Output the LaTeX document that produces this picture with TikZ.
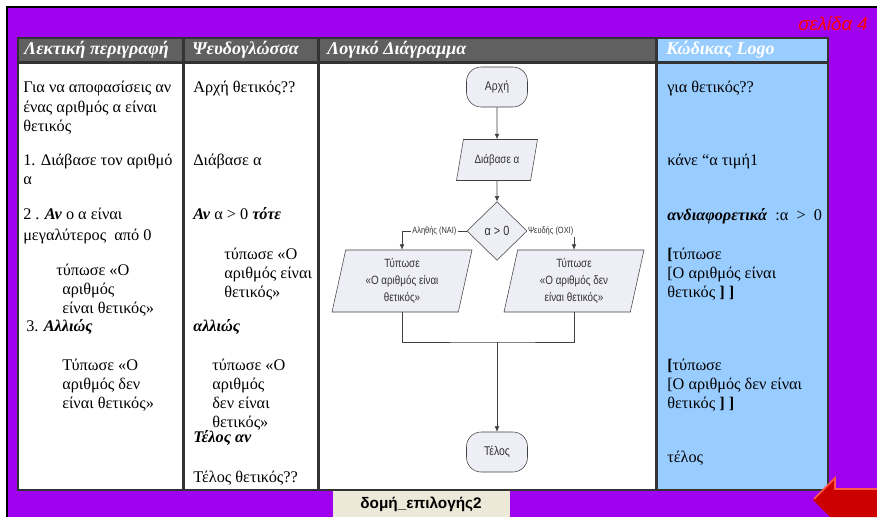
\documentclass[tikz,border=0pt]{standalone}
\usepackage{fontspec}
\setmainfont{Liberation Serif}
\setsansfont{Liberation Sans}
\newfontfamily\narrowsans[FakeStretch=0.82]{Liberation Sans}
\usepackage{xcolor}
\usepackage{tikz}
\usetikzlibrary{shapes.geometric,arrows.meta}
\definecolor{pagepurple}{RGB}{160,0,240}
\definecolor{headgrey}{RGB}{96,96,96}
\definecolor{gridgrey}{RGB}{51,51,51}
\definecolor{logoblue}{RGB}{153,204,255}
\definecolor{tabbeige}{RGB}{236,233,216}
\definecolor{chartfill}{RGB}{238,238,246}
\definecolor{chartline}{RGB}{64,64,64}
\definecolor{arrowred}{RGB}{204,0,0}
\definecolor{arrowlight}{RGB}{255,90,70}

\tikzset{
  headtext/.style={anchor=base west, inner sep=0pt, text=white,
    font=\fontsize{13.5}{15}\selectfont\bfseries\itshape},
  bodytext/.style={anchor=base west, inner sep=0pt,
    font=\fontsize{12.2}{14}\selectfont},
  terminal/.style={draw=chartline, fill=chartfill, rounded corners=11pt,
    minimum width=45.75pt, minimum height=30pt, text=gridgrey,
    font=\narrowsans\fontsize{9.5}{11}\selectfont},
  iobox/.style={draw=chartline, fill=chartfill, trapezium,
    trapezium stretches body, align=center, inner sep=1pt, text=gridgrey,
    font=\narrowsans\fontsize{9}{12.75}\selectfont},
  decision/.style={draw=chartline, fill=chartfill, diamond, inner sep=0pt,
    minimum width=45pt, minimum height=44pt, text=gridgrey,
    font=\narrowsans\fontsize{10}{12}\selectfont},
  flow/.style={draw=chartline, -{Latex[length=4pt,width=3.5pt]}},
  branch/.style={fill=white, inner sep=1pt, text=gridgrey,
    font=\narrowsans\fontsize{6.8}{8}\selectfont}
}

\begin{document}
\begin{tikzpicture}[x=0.75pt, y=-0.75pt]
  % page and frame
  \fill[white] (0,0) rectangle (877,517);
  \useasboundingbox (0,0) rectangle (877,517);
  \fill[pagepurple] (8,8) rectangle (877,517);
  \draw[black, line width=1.5pt] (7,517) -- (7,7) -- (877,7);
  \node[anchor=base east, inner sep=0pt, text=red,
    font=\sffamily\itshape\fontsize{14}{16}\selectfont] (page) at (868,31) {σελίδα 4};

  % table
  \fill[gridgrey] (17,37) rectangle (829,491);
  \fill[headgrey] (19,39) rectangle (182,61);
  \fill[headgrey] (185,39) rectangle (317,61);
  \fill[headgrey] (320,39) rectangle (655,61);
  \fill[logoblue] (658,39) rectangle (827,61);
  \fill[white] (19,64) rectangle (182,489);
  \fill[white] (185,64) rectangle (317,489);
  \fill[white] (320,64) rectangle (655,489);
  \fill[logoblue] (658,64) rectangle (827,489);

  \node[headtext] (hdesc) at (24,55) {Λεκτική περιγραφή};
  \node[headtext] (hpseudo) at (192,55) {Ψευδογλώσσα};
  \node[headtext] (hchart) at (327,55) {Λογικό Διάγραμμα};
  \node[headtext] (hlogo) at (666,55) {Κώδικας Logo};

  % column 1
  \node[bodytext] (d1) at (23,93) {Για να αποφασίσεις αν};
  \node[bodytext] (d2) at (23,112) {ένας αριθμός α είναι};
  \node[bodytext] (d3) at (23,131) {θετικός};
  \node[bodytext] (d4) at (23,165) {1. Διάβασε τον αριθμό};
  \node[bodytext] (d5) at (23,184) {α};
  \node[bodytext] (d6) at (23,219) {2 . \textbf{\textit{Αν}} ο α είναι};
  \node[bodytext] (d7) at (23,240) {μεγαλύτερος\ \ από 0};
  \node[bodytext] (d8) at (56,275) {τύπωσε «Ο};
  \node[bodytext] (d9) at (62,294) {αριθμός};
  \node[bodytext] (d10) at (62,313) {είναι θετικός»};
  \node[bodytext] (d11) at (26,331) {3. \textbf{\textit{Αλλιώς}}};
  \node[bodytext] (d12) at (62,370) {Τύπωσε «Ο};
  \node[bodytext] (d13) at (62,389) {αριθμός δεν};
  \node[bodytext] (d14) at (62,408) {είναι θετικός»};

  % column 2
  \node[bodytext] (p1) at (193,93) {Αρχή θετικός??};
  \node[bodytext] (p2) at (193,165) {Διάβασε α};
  \node[bodytext] (p3) at (193,219) {\textbf{\textit{Αν}} α > 0 \textbf{\textit{τότε}}};
  \node[bodytext] (p4) at (224,259) {τύπωσε «Ο};
  \node[bodytext] (p5) at (224,278) {αριθμός είναι};
  \node[bodytext] (p6) at (224,297) {θετικός»};
  \node[bodytext] (p7) at (193,331) {\textbf{\textit{αλλιώς}}};
  \node[bodytext] (p8) at (212,370) {τύπωσε «Ο};
  \node[bodytext] (p9) at (212,389) {αριθμός};
  \node[bodytext] (p10) at (212,408) {δεν είναι};
  \node[bodytext] (p11) at (212,427) {θετικός»};
  \node[bodytext] (p12) at (193,442) {\textbf{\textit{Τέλος αν}}};
  \node[bodytext] (p13) at (193,482) {Τέλος θετικός??};

  % column 4
  \node[bodytext] (c1) at (667,93) {για θετικός??};
  \node[bodytext] (c2) at (667,165) {κάνε “α τιμή1};
  \node[bodytext] (c3) at (667,220) {\textbf{\textit{ανδιαφορετικά}}\ \ :α\ \ >\ \ 0};
  \node[bodytext] (c4) at (667,259) {\textbf{[}τύπωσε};
  \node[bodytext] (c5) at (667,278) {[Ο αριθμός είναι};
  \node[bodytext] (c6) at (667,297) {θετικός \textbf{] ]}};
  \node[bodytext] (c7) at (667,370) {\textbf{[}τύπωσε};
  \node[bodytext] (c8) at (667,389) {[Ο αριθμός δεν είναι};
  \node[bodytext] (c9) at (667,408) {θετικός \textbf{] ]}};
  \node[bodytext] (c10) at (667,462) {τέλος};

  % flowchart
  \node[terminal] (start) at (497,87) {Αρχή};
  \node[iobox, trapezium left angle=64, trapezium right angle=116,
    minimum width=60.75pt, minimum height=30.75pt] (read) at (497,160) {Διάβασε α};
  \node[decision] (cond) at (497,231) {α > 0};
  \node[iobox, trapezium left angle=74, trapezium right angle=106,
    minimum width=105pt, minimum height=46.5pt] (yes) at (402,281)
    {Τύπωσε\\«Ο αριθμός είναι\\θετικός»};
  \node[iobox, trapezium left angle=74, trapezium right angle=106,
    minimum width=105pt, minimum height=46.5pt] (no) at (574,281)
    {Τύπωσε\\«Ο αριθμός δεν\\είναι θετικός»};
  \coordinate (join) at (497,342);
  \node[terminal] (stop) at (497,452) {Τέλος};

  \draw[flow] (start) -- (read);
  \draw[flow] (read) -- (cond);
  \draw[flow] (cond.west) -| node[branch, pos=0.25] {Αληθής (ΝΑΙ)} (yes.north);
  \draw[flow] (cond.east) -| node[branch, pos=0.25] {Ψευδής (ΟΧΙ)} (no.north);
  \draw[chartline] (yes.south) |- (join) -| (no.south);
  \draw[flow] (join) -- (stop);

  % bottom tab and back arrow
  \fill[tabbeige] (333,491) rectangle (510,517);
  \node[inner sep=0pt, font=\sffamily\bfseries\fontsize{11.5}{13}\selectfont]
    (tab) at (421,504) {δομή\_επιλογής2};
  \fill[arrowred] (813,500) -- (835,477) -- (835,488) -- (877,488)
    -- (877,517) -- (830,517) -- cycle;
  \draw[arrowlight, line width=1.2pt] (814,499) -- (835,478) -- (835,489) -- (877,489);
\end{tikzpicture}
\end{document}
